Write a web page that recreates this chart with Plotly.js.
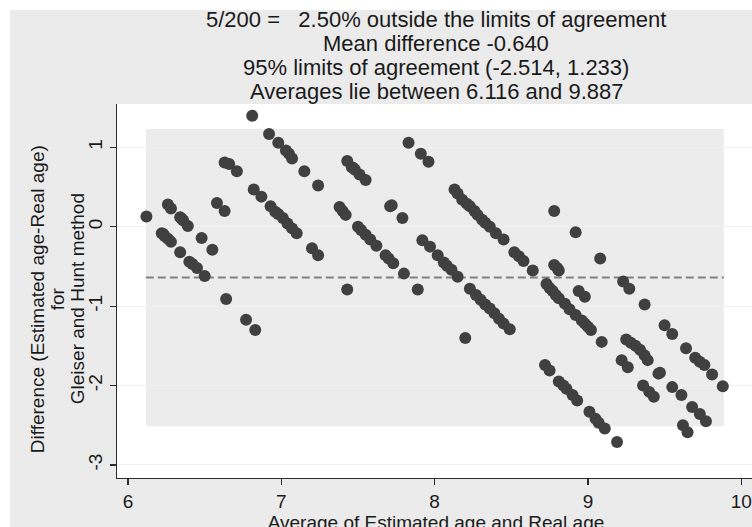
<!DOCTYPE html>
<html>
<head>
<meta charset="utf-8">
<script src="https://cdn.plot.ly/plotly-3.0.1.min.js"></script>
<style>
  html, body { margin: 0; padding: 0; background: #ffffff; overflow: hidden; width: 752px; height: 527px; }
  #bg { position: absolute; left: 10px; top: 10px; width: 770px; height: 530px; background: #ebebeb; }
  #chart { position: absolute; left: 0; top: 0; width: 780px; height: 540px; }
</style>
</head>
<body>
<div id="bg"></div>
<div id="chart"></div>
<script>
// Average of estimated and real age (x) and difference estimated - real (y)
const avgAge = [
  6.12, 6.26, 6.28, 6.34, 6.35, 6.36, 6.39, 6.22, 6.23, 6.24, 6.26, 6.28, 6.34, 6.40, 6.42, 6.45, 6.50,
  6.48, 6.55, 6.58, 6.63, 6.64, 6.63, 6.66, 6.71, 6.77, 6.83, 6.81, 6.82, 6.87,
  6.92, 6.98, 7.03, 7.05, 7.07, 7.15, 7.24,
  6.93, 6.96, 6.98, 7.01, 7.04, 7.07, 7.10, 7.20, 7.24,
  7.38, 7.40, 7.42, 7.43, 7.43, 7.46, 7.48, 7.47, 7.51, 7.55,
  7.50, 7.52, 7.55, 7.58, 7.62, 7.68, 7.70, 7.73, 7.80,
  7.71, 7.72, 7.79, 7.83, 7.91, 7.96, 7.89,
  7.92, 7.97, 8.02, 8.06, 8.08, 8.11, 8.15,
  8.23, 8.27, 8.30, 8.33, 8.36, 8.39, 8.42, 8.45, 8.49, 8.20,
  8.13, 8.15, 8.18, 8.21, 8.23, 8.26, 8.28, 8.31, 8.33, 8.36, 8.40, 8.45,
  8.52, 8.55, 8.58, 8.64,
  8.78, 8.78, 8.80, 8.81, 8.92, 9.08,
  8.73, 8.75, 8.77, 8.79, 8.81, 8.85, 8.88, 8.92, 8.96, 8.98, 9.00, 9.02, 9.09,
  8.94, 8.98,
  8.72, 8.75, 8.81, 8.84, 8.86, 8.90, 8.93, 9.01, 9.05, 9.07, 9.11, 9.19,
  9.23, 9.27, 9.37,
  9.25, 9.28, 9.31, 9.34, 9.37, 9.39, 9.46, 9.47,
  9.22, 9.26, 9.36, 9.40, 9.43,
  9.50, 9.55, 9.64, 9.70, 9.73, 9.76, 9.81, 9.88,
  9.55, 9.61, 9.68, 9.73, 9.77, 9.62, 9.65
];
const diffAge = [
  0.13, 0.28, 0.23, 0.12, 0.10, 0.08, 0.01, -0.08, -0.09, -0.12, -0.15, -0.19, -0.32, -0.44, -0.47, -0.52, -0.62,
  -0.14, -0.29, 0.30, 0.20, -0.91, 0.81, 0.79, 0.70, -1.17, -1.30, 1.40, 0.47, 0.38,
  1.17, 1.06, 0.96, 0.92, 0.86, 0.70, 0.52,
  0.26, 0.19, 0.16, 0.11, 0.04, -0.02, -0.08, -0.27, -0.36,
  0.25, 0.20, 0.15, -0.79, 0.83, 0.75, 0.72, 0.74, 0.66, 0.59,
  0.00, -0.04, -0.10, -0.16, -0.24, -0.36, -0.40, -0.46, -0.59,
  0.26, 0.27, 0.11, 1.06, 0.92, 0.82, -0.79,
  -0.17, -0.25, -0.36, -0.45, -0.49, -0.54, -0.63,
  -0.78, -0.86, -0.92, -0.98, -1.03, -1.09, -1.16, -1.22, -1.29, -1.40,
  0.47, 0.42, 0.34, 0.29, 0.26, 0.20, 0.15, 0.09, 0.05, 0.00, -0.08, -0.16,
  -0.32, -0.37, -0.43, -0.55,
  0.20, -0.48, -0.52, -0.55, -0.07, -0.40,
  -0.72, -0.77, -0.81, -0.86, -0.90, -0.97, -1.04, -1.11, -1.18, -1.22, -1.26, -1.30, -1.45,
  -0.81, -0.88,
  -1.74, -1.81, -1.95, -2.00, -2.04, -2.12, -2.19, -2.33, -2.42, -2.47, -2.54, -2.71,
  -0.69, -0.78, -0.98,
  -1.42, -1.46, -1.50, -1.55, -1.62, -1.68, -1.85, -1.84,
  -1.68, -1.77, -2.00, -2.08, -2.14,
  -1.24, -1.35, -1.53, -1.65, -1.70, -1.74, -1.86, -2.01,
  -2.02, -2.12, -2.27, -2.36, -2.45, -2.50, -2.59
];

// Summary statistics shown in the header
const nOutside = 5, nTotal = 200, pctOutside = 2.50;
const meanDiff = -0.640;
const loaLower = -2.514, loaUpper = 1.233;
const avgMin = 6.116, avgMax = 9.887;

const titleLines = [
  nOutside + "/" + nTotal + " =   " + pctOutside.toFixed(2) + "% outside the limits of agreement",
  "Mean difference " + meanDiff.toFixed(3),
  "95% limits of agreement (" + loaLower.toFixed(3) + ", " + loaUpper.toFixed(3) + ")",
  "Averages lie between " + avgMin.toFixed(3) + " and " + avgMax.toFixed(3)
];
const yTitleLines = ["Difference (Estimated age-Real age)", "for", "Gleiser and Hunt method"];
const xTitle = "Average of Estimated age and Real age";

const FONT = "Liberation Sans, Arial, sans-serif";
const plotLeft = 117, plotBottom = 477.7, plotH = 373.7, plotW = 638;

const annotations = [];
const titleY = [20, 44, 68, 92]; // pixel rows of header lines
titleLines.forEach((t, i) => {
  annotations.push({
    text: t, xref: "paper", yref: "paper", x: 0.5, y: (plotBottom - titleY[i]) / plotH,
    xanchor: "center", yanchor: "middle", showarrow: false,
    font: { family: FONT, size: 22, color: "#1a1a1a" }
  });
});
const yTitleX = [37, 57, 77];
yTitleLines.forEach((t, i) => {
  annotations.push({
    text: t, xref: "paper", yref: "paper", x: (yTitleX[i] - plotLeft) / plotW, y: 0.478,
    xanchor: "center", yanchor: "middle", showarrow: false, textangle: -90,
    font: { family: FONT, size: 19, color: "#1a1a1a" }
  });
});

const data = [{
  type: "scatter", mode: "markers", x: avgAge, y: diffAge,
  marker: { size: 12, color: "#404040", line: { width: 0 } },
  hoverinfo: "x+y", showlegend: false
}];

const layout = {
  width: 780, height: 540,
  margin: { l: 117, r: 25, t: 104, b: 62.3, pad: 0 },
  paper_bgcolor: "rgba(0,0,0,0)",
  plot_bgcolor: "#ffffff",
  font: { family: FONT, size: 19, color: "#1a1a1a" },
  showlegend: false,
  xaxis: {
    range: [5.928, 10.09], tickvals: [6, 7, 8, 9, 10], ticktext: ["6", "7", "8", "9", "10"],
    showline: true, linecolor: "#2b2b2b", linewidth: 1.3,
    ticks: "outside", ticklen: 6, tickwidth: 1.3, tickcolor: "#2b2b2b",
    showgrid: false, zeroline: false,
    tickfont: { family: FONT, size: 19, color: "#1a1a1a" },
    title: { text: xTitle, font: { family: FONT, size: 19, color: "#1a1a1a" }, standoff: 0 }
  },
  yaxis: {
    range: [-3.165, 1.547], tickvals: [-3, -2, -1, 0, 1], ticktext: ["-3", "-2", "-1", "0", "1"],
    tickangle: -90,
    showline: true, linecolor: "#2b2b2b", linewidth: 1.3,
    ticks: "outside", ticklen: 6, tickwidth: 1.3, tickcolor: "#2b2b2b",
    showgrid: true, gridcolor: "#f0f0f0", gridwidth: 1, zeroline: false,
    tickfont: { family: FONT, size: 19, color: "#1a1a1a" }
  },
  shapes: [
    { type: "rect", xref: "x", yref: "y", x0: avgMin, x1: avgMax, y0: loaLower, y1: loaUpper,
      fillcolor: "#ececec", line: { width: 0 }, layer: "below" },
    { type: "line", xref: "x", yref: "y", x0: avgMin, x1: avgMax, y0: meanDiff, y1: meanDiff,
      line: { color: "#808080", width: 2, dash: "8px,4px" }, layer: "below" }
  ],
  annotations: annotations
};

Plotly.newPlot("chart", data, layout, { displayModeBar: false, staticPlot: true });
</script>
</body>
</html>
